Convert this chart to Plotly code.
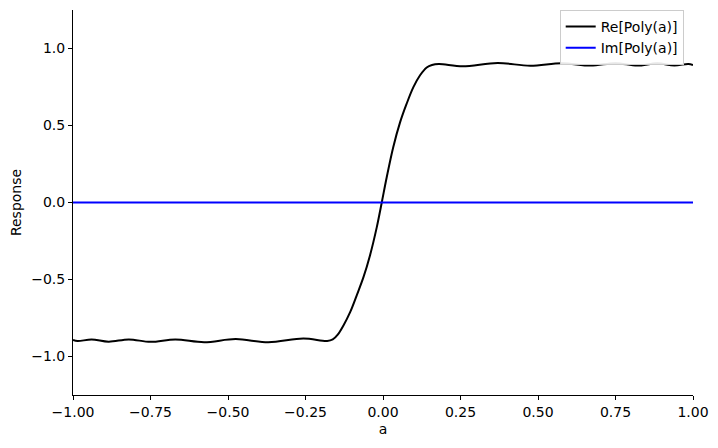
import plotly.graph_objects as go

# Re[Poly(a)]
a_re = [-1.0, -0.985, -0.94, -0.885, -0.82, -0.75, -0.67, -0.577, -0.475, -0.37,
        -0.257, -0.18, -0.162, -0.146, -0.128, -0.106, -0.085, -0.063, -0.042, -0.020, -0.004,
        0.012, 0.033, 0.055, 0.076, 0.098, 0.119, 0.141, 0.158, 0.18, 0.257,
        0.37, 0.475, 0.577, 0.67, 0.75, 0.82, 0.885, 0.94, 0.985, 1.0]
re_vals = [-0.893, -0.900, -0.889, -0.904, -0.889, -0.905, -0.889, -0.907, -0.887, -0.908,
           -0.883, -0.899, -0.889, -0.858, -0.800, -0.712, -0.604, -0.485, -0.344, -0.160, 0.0,
           0.164, 0.359, 0.520, 0.640, 0.749, 0.825, 0.877, 0.893, 0.899, 0.885,
           0.906, 0.888, 0.905, 0.889, 0.905, 0.889, 0.904, 0.889, 0.900, 0.893]

# Im[Poly(a)]
a_im = [-1.0, 1.0]
im_vals = [0.0, 0.0]

x_ticks = [-1.0, -0.75, -0.5, -0.25, 0.0, 0.25, 0.5, 0.75, 1.0]
x_tick_text = ["\u22121.00", "\u22120.75", "\u22120.50", "\u22120.25", "0.00", "0.25", "0.50", "0.75", "1.00"]
y_ticks = [-1.0, -0.5, 0.0, 0.5, 1.0]
y_tick_text = ["\u22121.0", "\u22120.5", "0.0", "0.5", "1.0"]

fig = go.Figure()
fig.add_trace(go.Scatter(x=a_re, y=re_vals, mode="lines", name="Re[Poly(a)]",
                         line=dict(color="black", width=2, shape="spline", smoothing=1.0)))
fig.add_trace(go.Scatter(x=a_im, y=im_vals, mode="lines", name="Im[Poly(a)]",
                         line=dict(color="#0000ff", width=2)))

axis_common = dict(showline=True, linecolor="black", linewidth=1, ticks="outside",
                   ticklen=4, tickwidth=1, tickcolor="black", showgrid=False,
                   zeroline=False, mirror=False,
                   tickfont=dict(family="DejaVu Sans", size=14, color="black"))

# page body has an 8px margin, so the figure is sized to 710x440 and offsets adjusted
fig.update_layout(
    width=710, height=440,
    margin=dict(l=65, r=25, t=2, b=53),
    paper_bgcolor="white", plot_bgcolor="white",
    font=dict(family="DejaVu Sans", size=14, color="black"),
    xaxis=dict(range=[-1, 1], tickvals=x_ticks, ticktext=x_tick_text,
               title=dict(text="a", standoff=5, font=dict(size=14)), **axis_common),
    yaxis=dict(range=[-1.25, 1.25], tickvals=y_ticks, ticktext=y_tick_text,
               title=dict(text="Response", standoff=9, font=dict(size=14)), **axis_common),
    legend=dict(x=0.985, y=1.0, xanchor="right", yanchor="top",
                bgcolor="rgba(255,255,255,0.9)", bordercolor="#cccccc", borderwidth=1,
                font=dict(family="DejaVu Sans", size=14), tracegroupgap=0, itemwidth=30),
    showlegend=True,
)

fig.write_html("out.html")
